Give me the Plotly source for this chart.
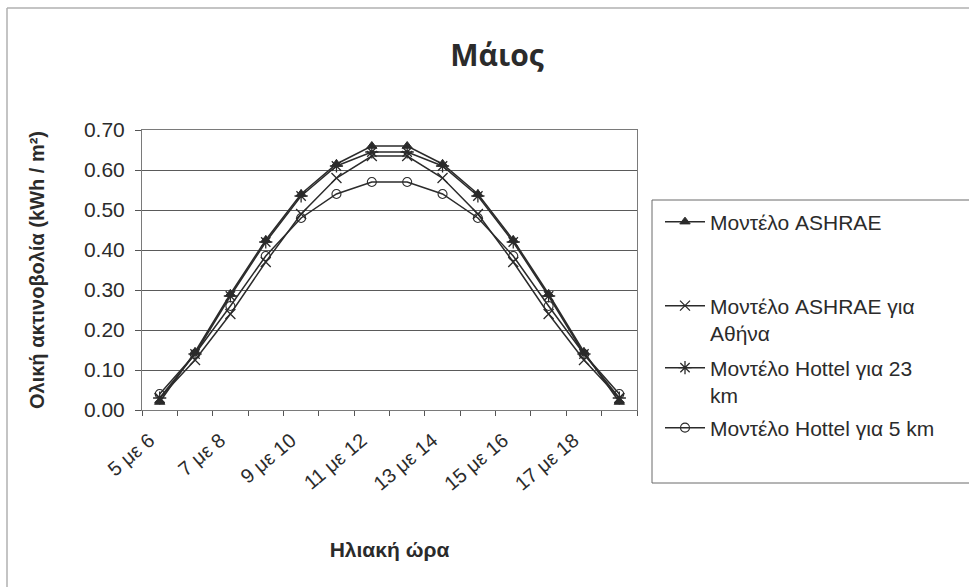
import plotly.graph_objects as go

# Solar hour intervals (May)
hours = ["5 με 6", "6 με 7", "7 με 8", "8 με 9", "9 με 10", "10 με 11", "11 με 12",
         "12 με 13", "13 με 14", "14 με 15", "15 με 16", "16 με 17", "17 με 18", "18 με 19"]

# Total irradiation per hour (kWh / m²)
ashrae = [0.02, 0.145, 0.29, 0.425, 0.54, 0.615, 0.66, 0.66, 0.615, 0.54, 0.425, 0.29, 0.145, 0.02]
ashrae_athens = [0.03, 0.125, 0.24, 0.37, 0.49, 0.58, 0.635, 0.635, 0.58, 0.49, 0.37, 0.24, 0.125, 0.03]
hottel_23 = [0.03, 0.14, 0.285, 0.42, 0.535, 0.61, 0.645, 0.645, 0.61, 0.535, 0.42, 0.285, 0.14, 0.03]
hottel_5 = [0.04, 0.14, 0.26, 0.385, 0.48, 0.54, 0.57, 0.57, 0.54, 0.48, 0.385, 0.26, 0.14, 0.04]

series_names = ["Μοντέλο ASHRAE", "Μοντέλο ASHRAE για<br>Αθήνα",
                "Μοντέλο Hottel για 23<br>km", "Μοντέλο Hottel για 5 km"]
y_ticks = [0.0, 0.1, 0.2, 0.3, 0.4, 0.5, 0.6, 0.7]

FONT = "Arial, Liberation Sans, sans-serif"
INK = "#2b2b2b"

# plot-area geometry in pixels (used to place legends and frames)
W, H = 969, 587
L, R, T, B = 142, 637, 130, 410


def px_x(p):
    return (p - L) / (R - L)


def px_y(p):
    return (B - p) / (B - T)


xs = list(range(len(hours)))
fig = go.Figure()

styles = [
    dict(symbol="triangle-up", size=9, line=dict(width=1, color=INK), color=INK),
    dict(symbol="x-thin-open", size=10, line=dict(width=1.3, color=INK), color=INK),
    dict(symbol="asterisk-open", size=11, line=dict(width=1.3, color=INK), color=INK),
    dict(symbol="circle-open", size=9, line=dict(width=1.1, color=INK), color=INK),
]
values = [ashrae, ashrae_athens, hottel_23, hottel_5]
legend_ids = ["legend", "legend2", "legend3", "legend4"]

for name, vals, mk, lg in zip(series_names, values, styles, legend_ids):
    fig.add_trace(go.Scatter(
        x=xs, y=vals, name=name, mode="lines+markers",
        line=dict(color=INK, width=1.5), marker=mk, legend=lg,
    ))

# legend entries, each placed in its own slot of the legend box
legend_centres = [222, 319.5, 381.5, 428]
legend_common = dict(
    x=px_x(660), xanchor="left", yanchor="middle",
    font=dict(family=FONT, size=21, color=INK),
    bgcolor="rgba(0,0,0,0)", borderwidth=0, valign="top", itemwidth=40,
)
legend_layout = {}
for lg, cy in zip(legend_ids, legend_centres):
    legend_layout[lg] = dict(y=px_y(cy), **legend_common)


def seg(x0, y0, x1, y1, color, width):
    return dict(type="line", xref="paper", yref="paper",
                x0=px_x(x0), y0=px_y(y0), x1=px_x(x1), y1=px_y(y1),
                line=dict(color=color, width=width), layer="below")


frame_shapes = [
    # outer chart frame: left and top edges
    seg(7, 8, 7, 587, "#b0b0b0", 1.5),
    seg(7, 8, 969, 8, "#b0b0b0", 1.5),
    # legend frame: left, top and bottom edges
    seg(652, 200, 652, 483, "#6a6a6a", 1),
    seg(652, 200, 969, 200, "#6a6a6a", 1),
    seg(652, 483, 969, 483, "#6a6a6a", 1),
]

fig.update_layout(
    width=W, height=H,
    margin=dict(l=L, r=W - R, t=T, b=H - B),
    paper_bgcolor="white", plot_bgcolor="white",
    font=dict(family=FONT, color=INK),
    title=dict(text="<b>Μάιος</b>", x=497 / W, xref="container",
               xanchor="center", y=1 - 55 / H, yanchor="middle",
               font=dict(family="Open Sans, DejaVu Sans, sans-serif", size=30, color=INK)),
    showlegend=True,
    **legend_layout,
    xaxis=dict(
        range=[-0.5, len(hours) - 0.5],
        tickmode="array", tickvals=xs[::2], ticktext=hours[::2],
        tickangle=-40, ticks="", showgrid=False, zeroline=False,
        tickfont=dict(family=FONT, size=20, color=INK),
        showline=True, mirror=True, linecolor="#7a7a7a", linewidth=1,
        ticklabelstandoff=10, ticklabelshift=-10,
        minor=dict(tickmode="array", tickvals=[i - 0.5 for i in range(len(hours) + 1)],
                   ticks="outside", ticklen=5, tickcolor="#555", showgrid=False),
        title=dict(text="<b>Ηλιακή ώρα</b>", standoff=48,
                   font=dict(family=FONT, size=21, color=INK)),
    ),
    yaxis=dict(
        range=[0, 0.70], tickmode="array", tickvals=y_ticks,
        tickformat=".2f", ticks="outside", ticklen=6, tickcolor="#555",
        showgrid=True, gridcolor="#5a5a5a", gridwidth=1, zeroline=False,
        showline=True, mirror=True, linecolor="#7a7a7a", linewidth=1,
        ticklabelstandoff=6,
        tickfont=dict(family=FONT, size=21, color=INK),
        title=dict(text="<b>Ολική ακτινοβολία (kWh / m²)</b>", standoff=33,
                   font=dict(family=FONT, size=20, color=INK)),
    ),
    shapes=frame_shapes,
)

fig.write_html("out.html")
